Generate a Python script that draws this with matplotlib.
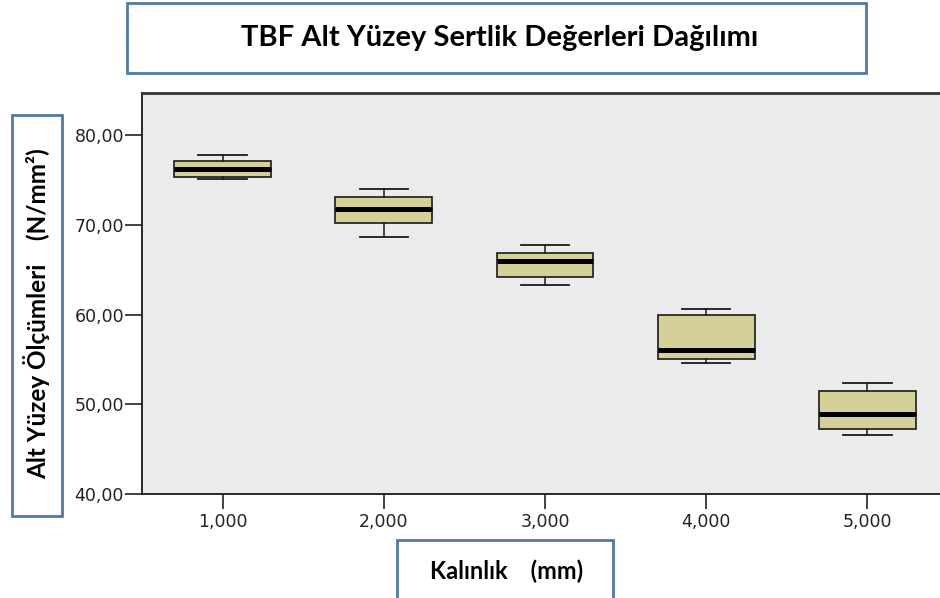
import matplotlib.pyplot as plt
from matplotlib.patches import Rectangle

plt.rcParams["font.family"] = ["DejaVu Sans"]

# Kalınlık (mm) ve kutu grafiği istatistikleri
kalinlik = [1, 2, 3, 4, 5]
alt_biyik = [75.1, 68.6, 63.3, 54.6, 46.6]
q1 = [75.3, 70.2, 64.2, 55.0, 47.3]
medyan = [76.2, 71.8, 66.0, 56.0, 48.9]
q3 = [77.1, 73.1, 66.9, 60.0, 51.5]
ust_biyik = [77.8, 74.0, 67.8, 60.6, 52.4]
x_etiketleri = ["1,000", "2,000", "3,000", "4,000", "5,000"]
y_degerleri = [40, 50, 60, 70, 80]
y_etiketleri = ["40,00", "50,00", "60,00", "70,00", "80,00"]

W, H = 940, 598
fig = plt.figure(figsize=(W / 100, H / 100), dpi=100)
ax = fig.add_axes([142 / W, 1 - 494 / H, 1 - 142 / W, (494 - 93) / H])
ax.set_facecolor("#ebebeb")

stats = []
for i in range(len(kalinlik)):
    stats.append(dict(whislo=alt_biyik[i], q1=q1[i], med=medyan[i],
                      q3=q3[i], whishi=ust_biyik[i], fliers=[]))

ax.bxp(stats, positions=kalinlik, widths=0.6, capwidths=0.3,
       patch_artist=True, showfliers=False,
       boxprops=dict(facecolor="#d5cf98", edgecolor="#1a1a1a", linewidth=1.2),
       medianprops=dict(color="black", linewidth=3.6, solid_capstyle="butt"),
       whiskerprops=dict(color="#1a1a1a", linewidth=1.1),
       capprops=dict(color="#1a1a1a", linewidth=1.3))

ax.set_xlim(0.5, 5.45)
ax.set_ylim(40, 84.7)
ax.set_xticks(kalinlik)
ax.set_xticklabels(x_etiketleri)
ax.set_yticks(y_degerleri)
ax.set_yticklabels(y_etiketleri)
ax.tick_params(axis="both", direction="out", labelsize=12.5, colors="#222222")
ax.tick_params(axis="x", length=11, width=1.2, pad=3)
ax.tick_params(axis="y", length=12, width=1.2, pad=1)
ax.spines["right"].set_visible(False)
for s in ["left", "bottom"]:
    ax.spines[s].set_linewidth(1.3)
    ax.spines[s].set_color("#1a1a1a")
ax.spines["top"].set_linewidth(2)
ax.spines["top"].set_color("#333333")

# Başlık ve eksen etiket kutuları
kutu_renk = "#4f7aa6"


def kutu(x0, y0, x1, y1):
    fig.patches.append(Rectangle((x0 / W, 1 - y1 / H), (x1 - x0) / W, (y1 - y0) / H,
                                 transform=fig.transFigure, fill=False,
                                 edgecolor=kutu_renk, linewidth=2))


kutu(127, 3, 866, 73)
kutu(12, 115, 62, 516)
kutu(397, 540, 613, 610)

baslik_font = ["Lato", "DejaVu Sans"]
fig.text(500 / W, 1 - 38 / H, "TBF Alt Yüzey Sertlik Değerleri Dağılımı",
         ha="center", va="center", fontsize=21, fontweight="bold", family=baslik_font)
fig.text(37 / W, 1 - 314 / H, "Alt Yüzey Ölçümleri    (N/mm²)",
         ha="center", va="center", rotation=90, fontsize=17.5, fontweight="bold",
         family=baslik_font)
fig.text(507 / W, 1 - 571 / H, "Kalınlık    (mm)",
         ha="center", va="center", fontsize=17, fontweight="bold", family=baslik_font)

fig.savefig("out.png", dpi=100)
